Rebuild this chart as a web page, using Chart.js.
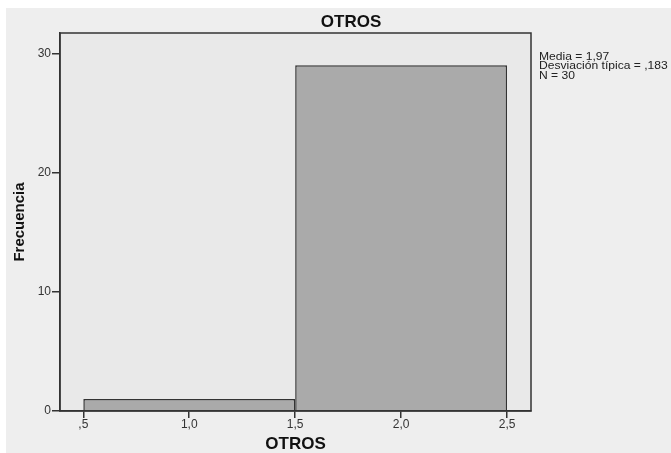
<!DOCTYPE html>
<html>
<head>
  <title>OTROS</title>
  <script src="https://cdn.jsdelivr.net/npm/chart.js"></script>
  <style>
    body {
      margin: 0;
      background-color: #ffffff;
      font-family: 'Liberation Sans', Arial, sans-serif;
    }
    .chart-box {
      width: 671px;
      height: 453px;
    }
  </style>
</head>
<body>
  <div class="chart-box">
    <canvas id="histChart" width="671" height="453"></canvas>
  </div>
  <script>
    // Histogram data (bin centers and counts)
    const binCenters = [1.0, 2.0];
    const frequencies = [1, 29];
    const xTicks = [0.5, 1.0, 1.5, 2.0, 2.5];
    const xTickLabels = [',5', '1,0', '1,5', '2,0', '2,5'];
    const yTicks = [0, 10, 20, 30];
    const chartTitle = 'OTROS';
    const xTitle = 'OTROS';
    const yTitle = 'Frecuencia';
    const statsLines = ['Media = 1,97', 'Desviación típica = ,183', 'N = 30'];

    const FONT = "'Liberation Sans', Arial, sans-serif";

    // backgrounds, frame, title and the stats note
    const spssFrame = {
      id: 'spssFrame',
      beforeDraw(chart) {
        const { ctx, chartArea: a } = chart;
        ctx.save();
        ctx.fillStyle = '#ffffff';
        ctx.fillRect(0, 0, chart.width, chart.height);
        ctx.fillStyle = '#eeeeee';
        ctx.fillRect(6, 8, chart.width - 6, chart.height - 8);
        ctx.fillStyle = '#e9e9e9';
        ctx.fillRect(a.left, a.top, a.right - a.left, a.bottom - a.top);
        ctx.restore();
      },
      afterDraw(chart) {
        const { ctx, chartArea: a } = chart;
        ctx.save();
        ctx.strokeStyle = '#333333';
        ctx.lineWidth = 1.5;
        ctx.strokeRect(a.left, a.top, a.right - a.left, a.bottom - a.top);

        ctx.fillStyle = '#111111';
        ctx.font = 'bold 17px ' + FONT;
        ctx.textAlign = 'center';
        ctx.textBaseline = 'middle';
        ctx.fillText(chartTitle, 351, 22);

        // stats note, slightly stretched like the SPSS export
        ctx.font = '11px ' + FONT;
        ctx.textAlign = 'left';
        ctx.fillStyle = '#222222';
        ctx.translate(539, 57);
        ctx.scale(1.1, 1);
        statsLines.forEach((line, i) => {
          ctx.fillText(line, 0, i * 9.3);
        });
        ctx.restore();
      }
    };

    // tick spacing (0.5) sets the ruler, so a bin of width 1 needs categoryPercentage 2
    const histChart = new Chart(document.getElementById('histChart'), {
      type: 'bar',
      data: {
        datasets: [{
          label: yTitle,
          data: binCenters.map((x, i) => ({ x: x, y: frequencies[i] })),
          backgroundColor: '#aaaaaa',
          borderColor: '#333333',
          borderWidth: 1.5,
          barPercentage: 1.0,
          categoryPercentage: 2.0,
          grouped: false
        }]
      },
      options: {
        responsive: false,
        animation: false,
        layout: {
          padding: { top: 33, left: 8, right: 140, bottom: 0 }
        },
        plugins: {
          legend: { display: false },
          tooltip: { enabled: false }
        },
        scales: {
          x: {
            type: 'linear',
            offset: false,
            min: 0.39,
            max: 2.613,
            afterBuildTicks: (scale) => {
              scale.ticks = xTicks.map(v => ({ value: v }));
            },
            afterFit: (scale) => { scale.height = 42; },
            grid: { offset: false, drawOnChartArea: false, drawTicks: true, tickLength: 7, color: '#333333', lineWidth: 1.5 },
            border: { display: true, color: '#333333', width: 1.5 },
            ticks: {
              padding: -1,
              color: '#333333',
              font: { family: FONT, size: 12 },
              callback: (v) => xTickLabels[xTicks.indexOf(v)]
            },
            title: {
              display: true,
              text: xTitle,
              color: '#111111',
              font: { family: FONT, size: 17, weight: 'bold', lineHeight: 1.0 },
              padding: { top: 0, bottom: 0 }
            }
          },
          y: {
            min: 0,
            max: 31.7,
            afterBuildTicks: (scale) => {
              scale.ticks = yTicks.map(v => ({ value: v }));
            },
            afterFit: (scale) => { scale.width = 52; },
            grid: { drawOnChartArea: false, drawTicks: true, tickLength: 8, color: '#333333', lineWidth: 1.5 },
            border: { display: true, color: '#333333', width: 1.5 },
            ticks: {
              padding: 1,
              color: '#333333',
              font: { family: FONT, size: 12 }
            },
            title: {
              display: true,
              text: yTitle,
              color: '#111111',
              font: { family: FONT, size: 15, weight: 'bold' },
              padding: { top: 3, bottom: 0 }
            }
          }
        }
      },
      plugins: [spssFrame]
    });
  </script>
</body>
</html>
